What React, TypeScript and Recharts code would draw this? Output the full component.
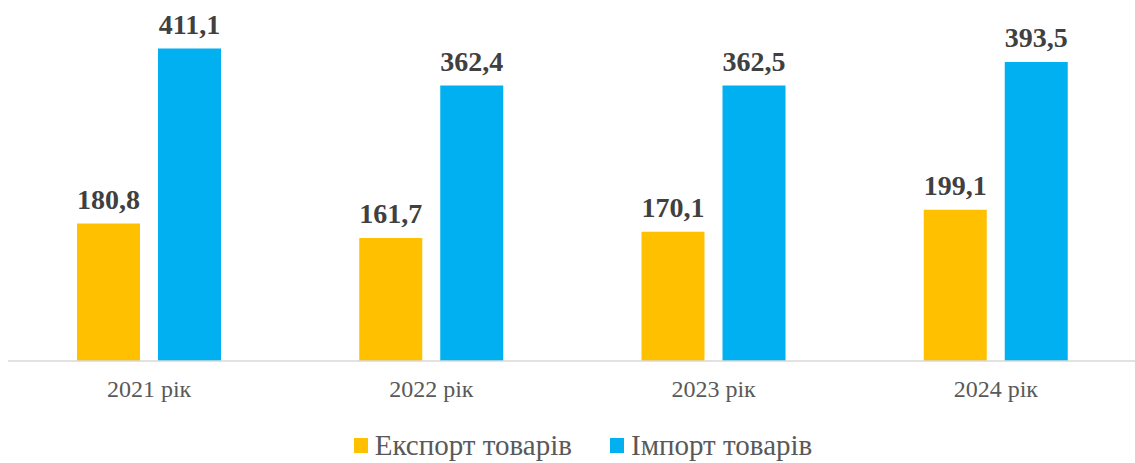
import { Bar, BarChart, LabelList, Legend, XAxis, YAxis } from "recharts";

const years = ["2021 рік", "2022 рік", "2023 рік", "2024 рік"];
const exportValues = [180.8, 161.7, 170.1, 199.1];
const importValues = [411.1, 362.4, 362.5, 393.5];
const seriesNames = ["Експорт товарів", "Імпорт товарів"];
const seriesColors = ["#FFC000", "#00B0F0"];

const data = years.map((year, i) => ({
  year,
  exp: exportValues[i],
  imp: importValues[i]
}));

const fmt = (v: any) => String(v).replace(".", ",");

const serif = '"Liberation Serif", "Times New Roman", serif';

const LegendContent = () => (
  <div
    style={{
      height: 42,
      boxSizing: "border-box",
      paddingTop: 6,
      display: "flex",
      alignItems: "center",
      justifyContent: "center",
      gap: 38,
      fontFamily: serif,
      fontSize: 29,
      color: "#595959",
      paddingLeft: 21
    }}
  >
    {seriesNames.map((name, i) => (
      <div key={name} style={{ display: "flex", alignItems: "center" }}>
        <span style={{ width: 14, height: 15, background: seriesColors[i], marginRight: 7, display: "inline-block" }} />
        <span>{name}</span>
      </div>
    ))}
  </div>
);

export default function App() {
  return (
    <div style={{ position: "absolute", left: 0, top: 0, background: "#fff" }}>
      <BarChart
        width={1135}
        height={463}
        data={data}
        margin={{ top: 19, right: -2, bottom: 0, left: 8 }}
        barSize={63}
        barGap={18}
      >
        <XAxis
          dataKey="year"
          height={60}
          axisLine={{ stroke: "#D9D9D9", strokeWidth: 1.5 }}
          tickLine={false}
          tick={{ fill: "#595959", fontSize: 24, fontFamily: serif, dy: 11 }}
        />
        <YAxis hide domain={[0, 450]} />
        <Legend verticalAlign="bottom" content={<LegendContent />} />
        <Bar dataKey="exp" fill={seriesColors[0]} isAnimationActive={false}>
          <LabelList
            dataKey="exp"
            position="top"
            offset={15}
            formatter={fmt}
            style={{ fill: "#404040", fontSize: 28, fontWeight: "bold", fontFamily: serif }}
          />
        </Bar>
        <Bar dataKey="imp" fill={seriesColors[1]} isAnimationActive={false}>
          <LabelList
            dataKey="imp"
            position="top"
            offset={15}
            formatter={fmt}
            style={{ fill: "#404040", fontSize: 28, fontWeight: "bold", fontFamily: serif }}
          />
        </Bar>
      </BarChart>
    </div>
  );
}
